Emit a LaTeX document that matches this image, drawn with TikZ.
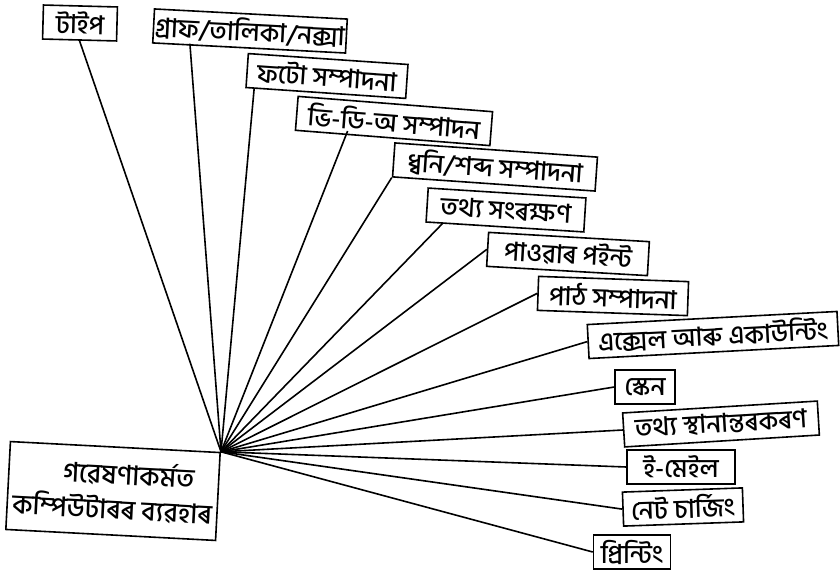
\documentclass[tikz,border=0pt]{standalone}
\usepackage{fontspec}
\newfontfamily\bnfont[Script=Bengali, UprightFont=* Medium]{Hind Siliguri}
\usepackage{tikz}

\begin{document}
\begin{tikzpicture}[x=1pt, y=1pt, line width=1.6pt,
  box/.style={draw, inner sep=1pt, minimum height=34pt,
    font=\bnfont\fontsize{26}{28}\selectfont}]
\useasboundingbox (0,0) rectangle (840,579);
%\draw[very thin,color=gray] (0,0) grid[step=50] (840,579);

% middle box
\node[box, minimum width=210pt, minimum height=88pt, rotate=-3, align=center,
  font=\bnfont\fontsize{27}{29}\selectfont] (use) at (113,88)
  {\hspace*{30pt}গৱেষণাকৰ্মত\\[6pt]কম্পিউটাৰৰ ব্যৱহাৰ};

% upper boxes
\node[box, minimum width=74pt, rotate=-1.5] (type) at (80,556) {টাইপ};
\node[box, minimum width=193pt, rotate=-3] (graph) at (250,548) {গ্ৰাফ/তালিকা/নক্সা};
\node[box, minimum width=160pt, rotate=-3.9] (photo) at (327,503) {ফটো সম্পাদনা};
\node[box, minimum width=195pt, rotate=-4.5] (video) at (394,458) {ভি-ডি-অ সম্পাদন};
\node[box, minimum width=203pt, rotate=-4] (sound) at (495,412) {ধ্বনি/শব্দ সম্পাদনা};
\node[box, minimum width=158pt, rotate=-3.6] (store) at (506,369) {তথ্য সংৰক্ষণ};
\node[box, minimum width=161pt, rotate=-3.3] (ppt) at (568,325) {পাওৱাৰ পইন্ট};
\node[box, minimum width=150pt, rotate=-2] (text) at (613,283) {পাঠ সম্পাদনা};

% lower boxes
\node[box, minimum width=250pt, rotate=3] (excel) at (713,244) {এক্সেল আৰু একাউন্টিং};
\node[box, minimum width=60pt] (scan) at (645,192) {স্কেন};
\node[box, minimum width=195pt, rotate=3.5] (move) at (721,155) {তথ্য স্থানান্তৰকৰণ};
\node[box, minimum width=108pt] (mail) at (681,112) {ই-মেইল};
\node[box, minimum width=120pt, rotate=2] (net) at (683,72) {নেট চাৰ্জিং};
\node[box, minimum width=77pt] (print) at (632,27) {প্ৰিন্টিং};

% spokes
\draw (use.north east) -- (type.south);
\draw (use.north east) -- ([xshift=38pt]graph.south west);
\draw (use.north east) -- ([xshift=9pt]photo.south west);
\draw (use.north east) -- ([xshift=53pt]video.south west);
\draw (use.north east) -- (sound.south west);
\draw (use.north east) -- ([xshift=18pt]store.south west);
\draw (use.north east) -- (ppt.west);
\draw (use.north east) -- (text.west);
\draw (use.north east) -- (excel.west);
\draw (use.north east) -- (scan.west);
\draw (use.north east) -- (move.west);
\draw (use.north east) -- (mail.west);
\draw (use.north east) -- (net.west);
\draw (use.north east) -- (print.west);

\end{tikzpicture}
\end{document}
